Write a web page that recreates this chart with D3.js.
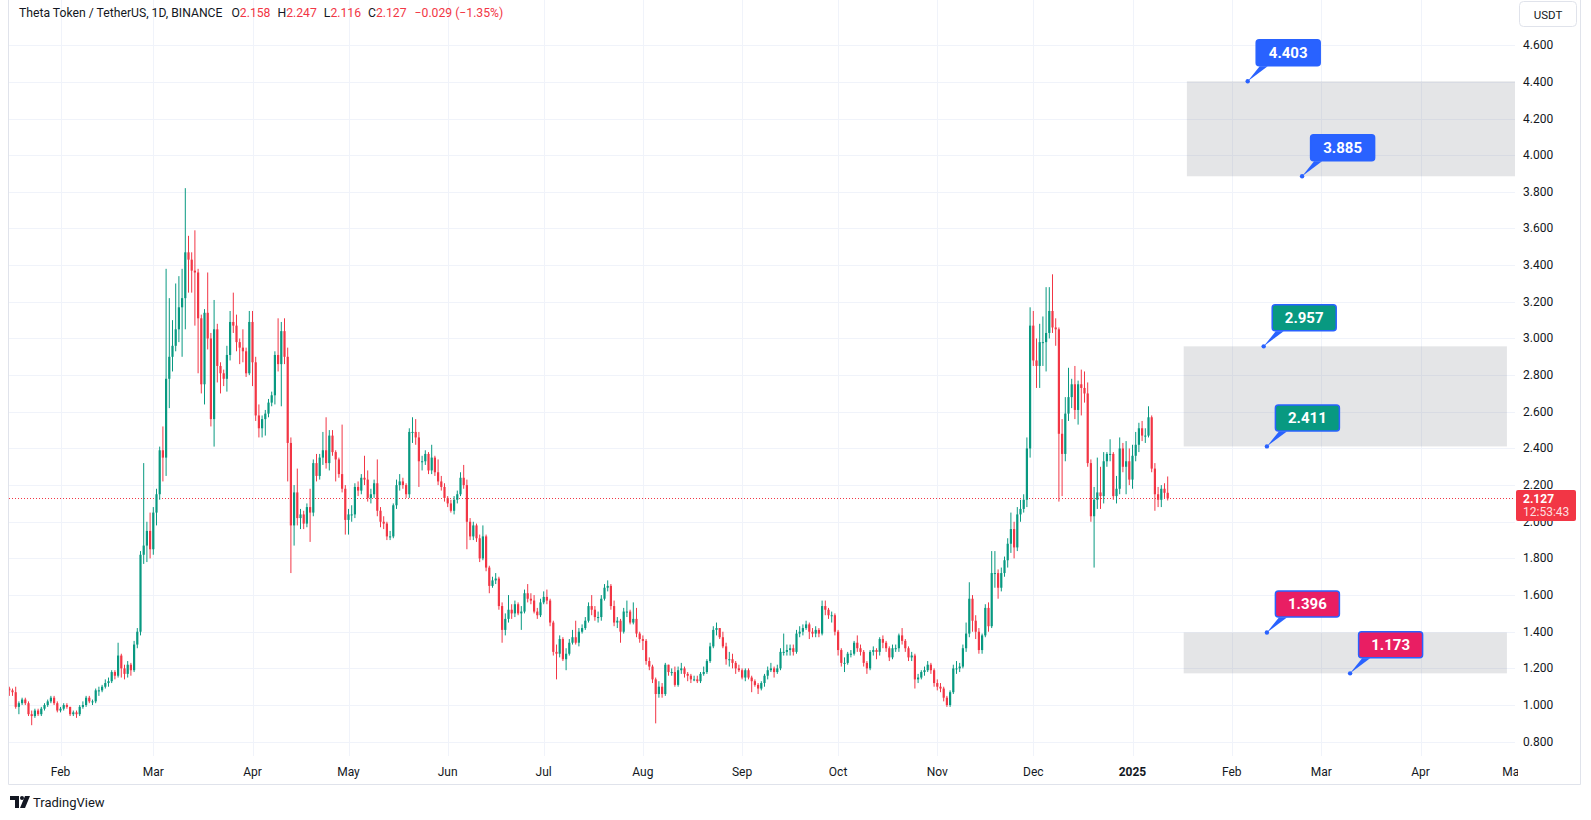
<!DOCTYPE html>
<html>
<head>
<meta charset="utf-8">
<script src="https://cdn.jsdelivr.net/npm/d3@7"></script>
<style>
  body { margin: 0; background: #fff; }
  svg { display: block; font-family: Roboto, "Liberation Sans", sans-serif; }
</style>
</head>
<body>
<svg id="chart" width="1591" height="820"></svg>
<script>
// THETA/USDT daily candles, Binance
const startDate = '2024-01-16';
const firstOpen = 1.09;

const closes = [
  // Jan 16-31
  1.08,1.07,0.99,1.01,1.03,1.01,0.95,0.94,0.97,0.95,0.98,1.00,1.02,1.04,1.01,0.97,
  // Feb
  0.98,1.00,0.99,0.95,0.96,0.95,0.99,1.00,1.04,1.02,1.02,1.08,1.08,1.10,1.12,1.13,1.18,1.16,1.27,1.20,
  1.17,1.22,1.19,1.33,1.40,1.82,1.87,1.95,1.85,
  // Mar
  2.05,2.15,2.39,2.35,2.78,2.90,2.96,3.05,3.17,3.22,3.47,3.43,3.37,3.36,3.11,2.75,3.14,3.00,2.56,3.05,
  2.85,2.81,2.78,2.91,3.09,3.07,2.98,2.95,2.93,2.81,3.09,
  // Apr
  2.87,2.58,2.51,2.56,2.59,2.65,2.69,2.91,2.86,3.04,2.90,2.43,1.98,2.16,2.02,2.04,1.99,2.08,2.05,2.32,
  2.25,2.35,2.39,2.32,2.47,2.38,2.34,2.26,2.18,2.01,
  // May
  2.04,2.04,2.19,2.17,2.24,2.23,2.13,2.15,2.21,2.06,2.00,1.99,1.92,1.92,2.09,2.20,2.22,2.20,2.15,2.49,
  2.49,2.46,2.33,2.33,2.37,2.28,2.35,2.27,2.22,2.19,2.13,
  // Jun
  2.10,2.06,2.12,2.15,2.24,2.20,2.00,1.92,1.98,1.91,1.80,1.92,1.75,1.65,1.68,1.69,1.54,1.41,1.47,1.52,
  1.50,1.55,1.50,1.51,1.61,1.58,1.57,1.51,1.49,1.56,
  // Jul
  1.59,1.57,1.45,1.29,1.28,1.36,1.25,1.28,1.34,1.37,1.34,1.40,1.42,1.46,1.54,1.52,1.48,1.48,1.58,1.64,
  1.65,1.54,1.45,1.46,1.40,1.51,1.51,1.45,1.47,1.39,1.36,
  // Aug
  1.35,1.24,1.21,1.14,1.06,1.10,1.06,1.22,1.18,1.18,1.11,1.19,1.20,1.17,1.16,1.14,1.14,1.13,1.17,1.18,
  1.24,1.32,1.41,1.42,1.37,1.32,1.25,1.25,1.23,1.20,1.19,
  // Sep
  1.15,1.19,1.15,1.13,1.11,1.09,1.12,1.16,1.19,1.20,1.18,1.20,1.29,1.29,1.30,1.31,1.29,1.39,1.40,1.42,
  1.44,1.40,1.39,1.41,1.39,1.54,1.52,1.49,1.49,1.40,
  // Oct
  1.30,1.23,1.23,1.28,1.28,1.34,1.31,1.29,1.23,1.20,1.29,1.30,1.29,1.36,1.34,1.31,1.26,1.31,1.31,1.38,
  1.35,1.31,1.26,1.27,1.14,1.15,1.18,1.19,1.22,1.19,1.12,
  // Nov
  1.10,1.09,1.04,1.00,1.07,1.20,1.20,1.21,1.31,1.39,1.58,1.46,1.40,1.30,1.38,1.53,1.43,1.72,1.72,1.64,
  1.72,1.79,1.88,1.96,1.86,2.04,2.07,2.12,2.40,3.07,
  // Dec
  2.88,2.85,2.98,2.98,3.03,3.15,3.06,3.05,2.48,2.37,2.59,2.68,2.75,2.61,2.75,2.73,2.70,2.32,2.03,2.12,
  2.16,2.14,2.33,2.37,2.37,2.14,2.18,2.40,2.30,2.33,2.23,
  // Jan 2025
  2.36,2.42,2.51,2.47,2.47,2.57,2.29,2.15,2.12,2.18,2.158,2.127
];

const highs = [
  1.10,1.09,1.10,1.02,1.04,1.04,1.02,0.97,0.98,0.98,0.99,1.01,1.03,1.05,1.05,1.02,
  0.99,1.01,1.01,0.99,0.97,0.97,1.00,1.02,1.05,1.05,1.03,1.09,1.10,1.11,1.14,1.15,1.19,1.19,1.34,1.28,
  1.22,1.24,1.23,1.35,1.42,1.84,2.32,2.00,2.05,
  2.08,2.18,2.41,2.52,3.38,3.22,3.10,3.30,3.34,3.38,3.82,3.56,3.47,3.59,3.38,3.13,3.16,3.36,3.03,3.21,
  3.08,2.87,2.83,2.96,3.15,3.25,3.13,3.00,3.05,2.95,3.15,
  3.15,2.90,2.64,2.58,2.61,2.67,2.71,2.93,3.11,3.09,3.11,2.95,2.46,2.20,2.29,2.07,2.06,2.10,2.18,2.34,
  2.37,2.37,2.49,2.57,2.50,2.50,2.39,2.35,2.53,2.20,
  2.07,2.09,2.21,2.22,2.26,2.36,2.28,2.18,2.23,2.34,2.08,2.03,2.00,1.95,2.10,2.23,2.26,2.24,2.21,2.51,
  2.57,2.56,2.49,2.36,2.39,2.38,2.42,2.36,2.34,2.25,2.21,
  2.14,2.12,2.14,2.17,2.27,2.31,2.23,2.02,2.00,1.99,1.93,1.98,1.93,1.76,1.70,1.72,1.70,1.56,1.50,1.60,
  1.55,1.57,1.56,1.54,1.63,1.66,1.61,1.60,1.53,1.58,
  1.62,1.63,1.58,1.46,1.33,1.38,1.37,1.31,1.36,1.41,1.46,1.42,1.44,1.48,1.56,1.60,1.54,1.51,1.60,1.66,
  1.68,1.66,1.57,1.48,1.47,1.53,1.57,1.52,1.56,1.53,1.40,
  1.38,1.36,1.26,1.22,1.15,1.13,1.12,1.23,1.22,1.20,1.21,1.21,1.23,1.21,1.18,1.17,1.16,1.16,1.18,1.21,
  1.25,1.34,1.43,1.45,1.42,1.40,1.34,1.29,1.28,1.24,1.22,
  1.20,1.20,1.20,1.16,1.14,1.12,1.13,1.17,1.21,1.23,1.21,1.22,1.31,1.39,1.33,1.33,1.33,1.41,1.43,1.44,
  1.46,1.45,1.42,1.43,1.42,1.57,1.57,1.53,1.51,1.50,
  1.41,1.31,1.26,1.29,1.30,1.35,1.38,1.33,1.30,1.24,1.30,1.32,1.31,1.37,1.38,1.35,1.32,1.33,1.33,1.39,
  1.42,1.36,1.32,1.29,1.28,1.17,1.19,1.21,1.24,1.23,1.20,
  1.14,1.12,1.10,1.05,1.08,1.22,1.24,1.23,1.33,1.45,1.67,1.60,1.49,1.42,1.39,1.55,1.56,1.84,1.84,1.74,
  1.75,1.81,1.91,2.05,2.00,2.08,2.12,2.15,2.46,3.17,
  3.15,3.00,3.08,3.12,3.28,3.28,3.35,3.11,3.06,2.56,2.68,2.84,2.78,2.85,2.77,2.83,2.82,2.76,2.34,2.19,
  2.35,2.30,2.38,2.38,2.45,2.38,2.25,2.46,2.43,2.44,2.40,
  2.42,2.49,2.54,2.55,2.51,2.63,2.58,2.32,2.19,2.20,2.21,2.247
];

const lows = [
  1.05,1.05,0.98,0.95,1.00,1.00,0.94,0.89,0.93,0.94,0.94,0.97,0.99,1.01,1.00,0.96,
  0.96,0.97,0.98,0.94,0.94,0.93,0.94,0.98,0.99,1.01,1.00,1.01,1.05,1.07,1.09,1.10,1.12,1.14,1.15,1.15,
  1.14,1.15,1.16,1.18,1.31,1.38,1.77,1.78,1.80,
  1.82,1.98,2.12,2.22,2.25,2.62,2.82,2.93,2.98,2.90,3.05,3.25,3.25,3.07,2.81,2.70,2.64,2.94,2.52,2.41,
  2.76,2.70,2.74,2.71,2.88,3.03,2.93,2.86,2.87,2.79,2.80,
  2.74,2.55,2.46,2.46,2.47,2.57,2.63,2.64,2.82,2.63,2.86,2.22,1.72,1.87,1.98,1.96,1.96,1.97,1.89,2.03,
  2.22,2.23,2.31,2.29,2.28,2.36,2.22,2.24,2.16,1.93,
  1.93,2.00,2.02,2.14,2.15,2.20,2.11,2.10,2.13,2.03,1.97,1.96,1.90,1.90,1.91,2.07,2.17,2.18,2.13,2.13,
  2.43,2.42,2.19,2.28,2.31,2.26,2.26,2.25,2.20,2.17,2.11,
  2.08,2.05,2.04,2.10,2.14,2.18,1.85,1.90,1.90,1.89,1.78,1.79,1.73,1.61,1.64,1.66,1.52,1.34,1.38,1.45,
  1.47,1.48,1.49,1.41,1.50,1.56,1.55,1.50,1.47,1.48,
  1.55,1.55,1.43,1.27,1.14,1.26,1.24,1.19,1.27,1.33,1.33,1.32,1.39,1.41,1.45,1.49,1.46,1.45,1.46,1.57,
  1.62,1.52,1.43,1.42,1.34,1.39,1.48,1.44,1.44,1.37,1.34,
  1.30,1.22,1.19,1.12,0.90,1.04,1.04,1.05,1.16,1.16,1.10,1.10,1.17,1.15,1.13,1.12,1.13,1.12,1.12,1.16,
  1.17,1.23,1.31,1.38,1.36,1.31,1.22,1.21,1.20,1.17,1.18,
  1.14,1.13,1.14,1.07,1.10,1.06,1.08,1.10,1.14,1.18,1.15,1.17,1.19,1.27,1.27,1.27,1.27,1.28,1.37,1.38,
  1.41,1.36,1.37,1.37,1.37,1.38,1.49,1.47,1.45,1.38,
  1.27,1.21,1.18,1.22,1.26,1.27,1.29,1.27,1.21,1.17,1.19,1.27,1.25,1.27,1.31,1.29,1.24,1.25,1.29,1.29,
  1.33,1.29,1.24,1.24,1.09,1.12,1.14,1.16,1.18,1.17,1.10,
  1.08,1.07,1.02,0.99,0.99,1.06,1.17,1.18,1.20,1.29,1.37,1.40,1.36,1.28,1.28,1.37,1.40,1.42,1.64,1.58,
  1.62,1.70,1.75,1.83,1.80,1.84,2.00,2.05,2.08,2.35,
  2.85,2.73,2.73,2.85,2.82,3.00,3.03,2.96,2.11,2.14,2.33,2.55,2.62,2.56,2.53,2.58,2.65,2.30,2.00,1.75,
  2.07,2.07,2.10,2.30,2.33,2.12,2.10,2.15,2.27,2.15,2.20,
  2.18,2.33,2.38,2.44,2.43,2.46,2.27,2.06,2.08,2.08,2.13,2.116
];

const priceTicks = [0.8,1.0,1.2,1.4,1.6,1.8,2.0,2.2,2.4,2.6,2.8,3.0,3.2,3.4,3.6,3.8,4.0,4.2,4.4,4.6];
const monthTicks = ['2024-02-01','2024-03-01','2024-04-01','2024-05-01','2024-06-01','2024-07-01',
  '2024-08-01','2024-09-01','2024-10-01','2024-11-01','2024-12-01','2025-01-01','2025-02-01',
  '2025-03-01','2025-04-01','2025-05-01'];
const monthLabels = ['Feb','Mar','Apr','May','Jun','Jul','Aug','Sep','Oct','Nov','Dec','2025',
  'Feb','Mar','Apr','May'];

// shaded zones
const zoneTops = [4.403, 2.957, 1.396];
const zoneBottoms = [3.885, 2.411, 1.173];
const zoneStarts = ['2025-01-18','2025-01-17','2025-01-17'];
const zoneEnds = ['2025-05-10','2025-04-28','2025-04-28'];

// price callouts
const calloutValues = [4.403, 3.885, 2.957, 2.411, 1.396, 1.173];
const calloutDates = ['2025-02-06','2025-02-23','2025-02-11','2025-02-12','2025-02-12','2025-03-10'];
const calloutFills = ['#2962ff','#2962ff','#089981','#089981','#e91e63','#e91e63'];

const last = { o: 2.158, h: 2.247, l: 2.116, c: 2.127, chg: '\u22120.029', pct: '(\u22121.35%)' };

const plot = { left: 9, right: 1515, top: 0, bottom: 756 };
const UP = '#089981', DOWN = '#f23645', GRID = '#f0f3fa', TXT = '#131722';

const parse = d3.utcParse('%Y-%m-%d');
const x = d3.scaleUtc()
  .domain([parse('2024-02-01'), parse('2025-02-01')])
  .range([60.5, 1231.7]);
const y = d3.scaleLinear().domain([0.8, 4.6]).range([741.7, 45.2]);

const t0 = parse(startDate);
const candles = closes.map((c, i) => ({
  date: d3.utcDay.offset(t0, i),
  open: i === 0 ? firstOpen : closes[i - 1],   // daily open = previous close
  close: c, high: highs[i], low: lows[i]
}));

const svg = d3.select('#chart');
const defs = svg.append('defs');

defs.append('clipPath').attr('id', 'plotclip')
  .append('rect')
  .attr('x', plot.left).attr('y', plot.top)
  .attr('width', plot.right - plot.left).attr('height', plot.bottom - plot.top);
defs.append('clipPath').attr('id', 'axclip')
  .append('rect').attr('x', plot.left).attr('y', plot.bottom)
  .attr('width', plot.right - plot.left + 3).attr('height', 28);

// grid
const grid = svg.append('g');
grid.selectAll('.hg').data(priceTicks).enter().append('line')
  .attr('x1', plot.left).attr('x2', plot.right)
  .attr('y1', d => Math.round(y(d)) + 0.5).attr('y2', d => Math.round(y(d)) + 0.5)
  .attr('stroke', GRID);
grid.selectAll('.vg').data(monthTicks.slice(0, -1)).enter().append('line')
  .attr('x1', d => Math.round(x(parse(d))) + 0.5).attr('x2', d => Math.round(x(parse(d))) + 0.5)
  .attr('y1', plot.top).attr('y2', plot.bottom)
  .attr('stroke', GRID);

const main = svg.append('g').attr('clip-path', 'url(#plotclip)');

// zones
main.selectAll('.zone').data(zoneTops).enter().append('rect')
  .attr('x', (d, i) => x(parse(zoneStarts[i])))
  .attr('y', d => y(d))
  .attr('width', (d, i) => x(parse(zoneEnds[i])) - x(parse(zoneStarts[i])))
  .attr('height', (d, i) => y(zoneBottoms[i]) - y(d))
  .attr('fill', 'rgba(120,123,134,0.2)');

// current price line
main.append('line')
  .attr('x1', plot.left).attr('x2', plot.right)
  .attr('y1', Math.round(y(last.c)) + 0.5).attr('y2', Math.round(y(last.c)) + 0.5)
  .attr('stroke', DOWN).attr('stroke-dasharray', '1,2');

// candles
const bw = 2.2;
const cg = main.selectAll('.candle').data(candles).enter().append('g');
cg.append('line')
  .attr('x1', d => x(d.date)).attr('x2', d => x(d.date))
  .attr('y1', d => y(d.high)).attr('y2', d => y(d.low))
  .attr('stroke', d => d.close >= d.open ? UP : DOWN).attr('stroke-width', 1);
cg.append('rect')
  .attr('x', d => x(d.date) - bw / 2)
  .attr('y', d => y(Math.max(d.open, d.close)))
  .attr('width', bw)
  .attr('height', d => Math.max(1, Math.abs(y(d.open) - y(d.close))))
  .attr('fill', d => d.close >= d.open ? UP : DOWN);

// callouts
const co = main.selectAll('.callout').data(calloutValues).enter().append('g')
  .attr('transform', (d, i) => `translate(${x(parse(calloutDates[i]))},${y(d)})`);
co.append('path')
  .attr('d', 'M0,0 L12,-15 L20,-15 Z')
  .attr('fill', '#2962ff');
co.append('rect')
  .attr('x', 8.5).attr('y', -41.5).attr('width', 64).attr('height', 26).attr('rx', 3)
  .attr('fill', (d, i) => calloutFills[i])
  .attr('stroke', '#2962ff').attr('stroke-width', 1.5);
co.append('circle').attr('r', 2.2).attr('fill', '#2962ff');
co.append('text')
  .attr('x', 40.5).attr('y', -23)
  .attr('text-anchor', 'middle')
  .attr('fill', '#fff').attr('font-size', 15).attr('font-weight', 700)
  .text(d => d.toFixed(3));

// price axis (the 2.000 label sits partly under the last-price tag, as in the original)
svg.selectAll('.pt').data(priceTicks).enter().append('text')
  .attr('x', 1523).attr('y', d => y(d) + 4)
  .attr('font-size', 12).attr('fill', TXT)
  .text(d => d.toFixed(3));

svg.append('rect')
  .attr('x', 1519.5).attr('y', 1.5).attr('width', 57).attr('height', 25).attr('rx', 4)
  .attr('fill', '#fff').attr('stroke', '#e0e3eb');
svg.append('text')
  .attr('x', 1548).attr('y', 18.5).attr('text-anchor', 'middle')
  .attr('font-size', 11.5).attr('fill', TXT).text('USDT');

// last price label
const ly = y(last.c);
svg.append('rect')
  .attr('x', 1516).attr('y', ly - 8.5).attr('width', 60).attr('height', 31).attr('rx', 2)
  .attr('fill', DOWN);
svg.append('text')
  .attr('x', 1523).attr('y', ly + 4.5)
  .attr('font-size', 12).attr('font-weight', 700).attr('fill', '#fff')
  .text(last.c.toFixed(3));
svg.append('text')
  .attr('x', 1523).attr('y', ly + 18)
  .attr('font-size', 12).attr('fill', 'rgba(255,255,255,0.85)')
  .text('12:53:43');

// time axis
const ta = svg.append('g').attr('clip-path', 'url(#axclip)');
ta.selectAll('text').data(monthTicks).enter().append('text')
  .attr('x', (d, i) => x(parse(d)) - (i === monthTicks.length - 1 ? 3 : 0)).attr('y', 776)
  .attr('text-anchor', 'middle')
  .attr('font-size', 12)
  .attr('font-weight', (d, i) => monthLabels[i] === '2025' ? 700 : 400)
  .attr('fill', TXT)
  .text((d, i) => monthLabels[i]);

// frame
svg.append('path')
  .attr('d', `M${plot.left - 0.5},0 V784.5 H1580.5 V0`)
  .attr('fill', 'none').attr('stroke', '#e0e3eb');

// legend
const lg = svg.append('text').attr('x', 19).attr('y', 17).attr('font-size', 12.2).attr('fill', TXT);
lg.append('tspan').text('Theta Token / TetherUS, 1D, BINANCE');
[['O', last.o], ['H', last.h], ['L', last.l], ['C', last.c]].forEach(([k, v], i) => {
  lg.append('tspan').attr('dx', i === 0 ? 9 : 7).text(k);
  lg.append('tspan').attr('fill', DOWN).text(v.toFixed(3));
});
lg.append('tspan').attr('dx', 8).attr('fill', DOWN).text(last.chg + ' ' + last.pct);

// TradingView mark
const tv = svg.append('g').attr('fill', TXT);
tv.append('path').attr('d', 'M10,796 H19 V808 H15 V800 H10 Z');
tv.append('circle').attr('cx', 22).attr('cy', 798).attr('r', 2);
tv.append('path').attr('d', 'M25,796 H30 L25,808 H20 Z');
svg.append('text').attr('x', 33).attr('y', 807).attr('font-size', 13).attr('fill', TXT).text('TradingView');
</script>
</body>
</html>
